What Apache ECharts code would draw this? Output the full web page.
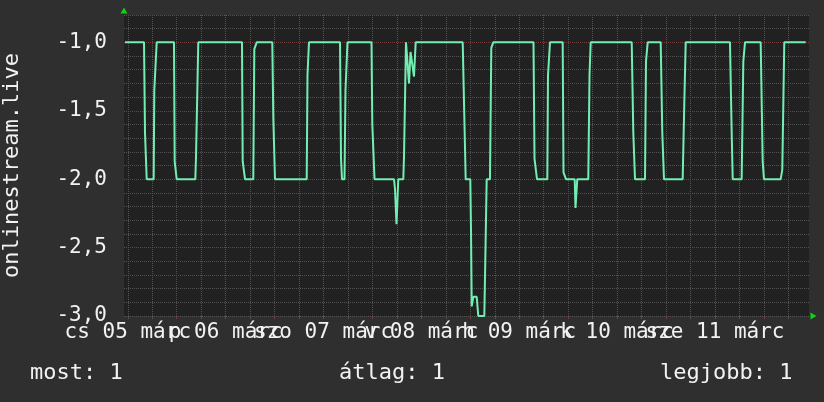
<!DOCTYPE html>
<html><head><meta charset="utf-8">
<script src="https://cdn.jsdelivr.net/npm/echarts@6/dist/echarts.min.js"></script>
<style>html,body{margin:0;padding:0;background:#2f2f2f}#c{width:824px;height:402px}</style>
</head><body><div id="c"></div>
<script>
// ---- data (hours since graph start, value) ----
const seriesName = 'onlinestream.live';
const hours = [0.25,4.91,5.15,5.57,7.28,7.43,8.02,12.26,12.43,12.92,17.49,17.66,18.22,28.94,29.11,29.68,31.71,31.96,32.55,36.37,36.62,37.03,44.81,45.0,45.37,52.98,53.22,53.47,54.08,54.32,54.81,60.70,60.90,61.44,66.22,66.46,66.83,67.08,67.27,68.50,68.67,69.16,69.53,69.90,70.27,70.76,71.12,71.54,83.07,83.26,83.80,84.93,85.10,85.28,85.67,86.50,86.89,88.37,88.71,88.95,89.76,90.08,90.57,100.43,100.68,101.29,103.82,103.99,104.48,107.59,107.79,108.40,110.54,110.73,110.98,111.17,113.87,114.17,114.46,124.52,124.91,125.33,127.78,128.02,128.44,131.63,132.02,132.44,137.02,137.42,137.76,148.62,149.04,149.29,151.49,151.89,152.30,156.15,156.64,156.96,161.06,161.45,161.94,167.19];
const values = [-1.0,-1.0,-1.66,-2.0,-2.0,-1.35,-1.0,-1.0,-1.87,-2.0,-2.0,-1.84,-1.0,-1.0,-1.87,-2.0,-2.0,-1.05,-1.0,-1.0,-1.55,-2.0,-2.0,-1.24,-1.0,-1.0,-1.85,-2.0,-2.0,-1.35,-1.0,-1.0,-1.6,-2.0,-2.0,-2.07,-2.33,-2.33,-2.0,-2.0,-1.84,-1.0,-1.0,-1.30,-1.07,-1.07,-1.25,-1.0,-1.0,-1.26,-2.0,-2.0,-2.36,-2.93,-2.86,-2.86,-3.0,-3.0,-2.42,-2.0,-2.0,-1.04,-1.0,-1.0,-1.85,-2.0,-2.0,-1.24,-1.0,-1.0,-1.95,-2.0,-2.0,-2.21,-2.21,-2.0,-2.0,-1.24,-1.0,-1.0,-1.66,-2.0,-2.0,-1.14,-1.0,-1.0,-1.66,-2.0,-2.0,-1.44,-1.0,-1.0,-1.66,-2.0,-2.0,-1.14,-1.0,-1.0,-1.87,-2.0,-2.0,-1.93,-1.0,-1.0];
const dayLabels = ['cs 05 márc','p 06 márc','szo 07 márc','v 08 márc','h 09 márc','k 10 márc','sze 11 márc'];
const yTickValues = [-3.0,-2.5,-2.0,-1.5,-1.0];
const yTickLabels = ['-3,0','-2,5','-2,0','-1,5','-1,0'];
const legendTexts = ['most: 1','átlag: 1','legjobb: 1'];

// ---- axis geometry (time grid in 4-minute slots over one week) ----
const SPAN_H = 168, SLOT_MIN = 4;
const nSlots = SPAN_H * 60 / SLOT_MIN;          // 2520
const firstMinor = 14, minorEvery = 90;          // 6 h grid
const firstMajor = 194, majorEvery = 360;        // 24 h grid
const firstLabel = 14;
const cats = [];
for (let i = 0; i <= nSlots; i++) {
  let s = '';
  if (i >= firstLabel && (i - firstLabel) % majorEvery === 0) {
    const k = (i - firstLabel) / majorEvery;
    if (k < dayLabels.length) s = dayLabels[k];
  }
  cats.push(s);
}
const isMinor = i => i >= firstMinor && (i - firstMinor) % minorEvery === 0;
const isMajor = i => i >= firstMajor && (i - firstMajor) % majorEvery === 0;

const FONT = 'DejaVu Sans Mono';
const TXT = '#f2f2f2';
const GRAY = '#535353', RED = '#74403f', GREEN = '#12d012', LINE = '#72eeb2';

const chart = echarts.init(document.getElementById('c'), null, {renderer: 'canvas'});
chart.setOption({
  backgroundColor: '#2f2f2f',
  animation: false,
  grid: {left: 124, top: 15, width: 685, height: 301, show: true, backgroundColor: '#212121', borderWidth: 0,
         containLabel: false, outerBoundsMode: 'none'},
  xAxis: [
    {type: 'value', min: 0, max: SPAN_H, position: 'bottom',
     axisLine: {show: true, symbol: ['none', 'triangle'], symbolSize: [7, 6], symbolOffset: [0, 4.5], lineStyle: {color: GREEN, width: 0}},
     axisTick: {show: false}, axisLabel: {show: false}, splitLine: {show: false}},
    {type: 'category', data: cats, boundaryGap: false, position: 'bottom',
     axisLine: {show: false},
     axisTick: {show: true, length: 3, interval: i => isMinor(i), lineStyle: {color: GRAY}},
     axisLabel: {show: true, interval: 0, color: TXT, fontFamily: FONT, fontSize: 21, margin: 6, hideOverlap: false},
     splitLine: {show: true, interval: i => isMinor(i), lineStyle: {color: GRAY, type: [1, 1], width: 1}}},
    {type: 'category', data: cats, boundaryGap: false, position: 'bottom',
     axisLine: {show: false},
     axisTick: {show: true, length: 3, interval: i => isMajor(i), lineStyle: {color: RED}},
     axisLabel: {show: false},
     splitLine: {show: true, interval: i => isMajor(i), lineStyle: {color: RED, type: [1, 1], width: 1}}}
  ],
  yAxis: [
    {type: 'value', min: -3, max: -0.8, interval: 0.1, position: 'left',
     axisLine: {show: true, symbol: ['none', 'triangle'], symbolSize: [7, 6], symbolOffset: [0, 4.5], lineStyle: {color: GREEN, width: 0}},
     axisTick: {show: false}, axisLabel: {show: false},
     splitLine: {show: true, lineStyle: {color: GRAY, type: [1, 1], width: 1}}},
    {type: 'value', min: -3, max: -0.8, interval: 0.5, position: 'left',
     name: seriesName, nameLocation: 'middle', nameGap: 101, nameRotate: 90,
     nameTextStyle: {color: TXT, fontFamily: FONT, fontSize: 22},
     axisLine: {show: false}, axisTick: {show: false},
     axisLabel: {show: true, color: TXT, fontFamily: FONT, fontSize: 21, margin: 17, hideOverlap: false,
       formatter: v => { const k = yTickValues.findIndex(t => Math.abs(t - v) < 1e-6); return k >= 0 ? yTickLabels[k] : ''; }},
     splitLine: {show: true, showMinLine: false, showMaxLine: false, lineStyle: {color: RED, type: [1, 1], width: 1}}}
  ],
  series: [{
    name: seriesName, type: 'line', xAxisIndex: 0, yAxisIndex: 0,
    showSymbol: false, symbol: 'none',
    lineStyle: {color: LINE, width: 2}, z: 5,
    data: hours.map((h, i) => [h, values[i]])
  }],
  graphic: [
    {type: 'text', left: 30, top: 362, style: {text: legendTexts[0], fill: TXT, font: '22px "DejaVu Sans Mono"'}},
    {type: 'text', left: 339, top: 362, style: {text: legendTexts[1], fill: TXT, font: '22px "DejaVu Sans Mono"'}},
    {type: 'text', left: 660, top: 362, style: {text: legendTexts[2], fill: TXT, font: '22px "DejaVu Sans Mono"'}}
  ]
});
</script></body></html>
